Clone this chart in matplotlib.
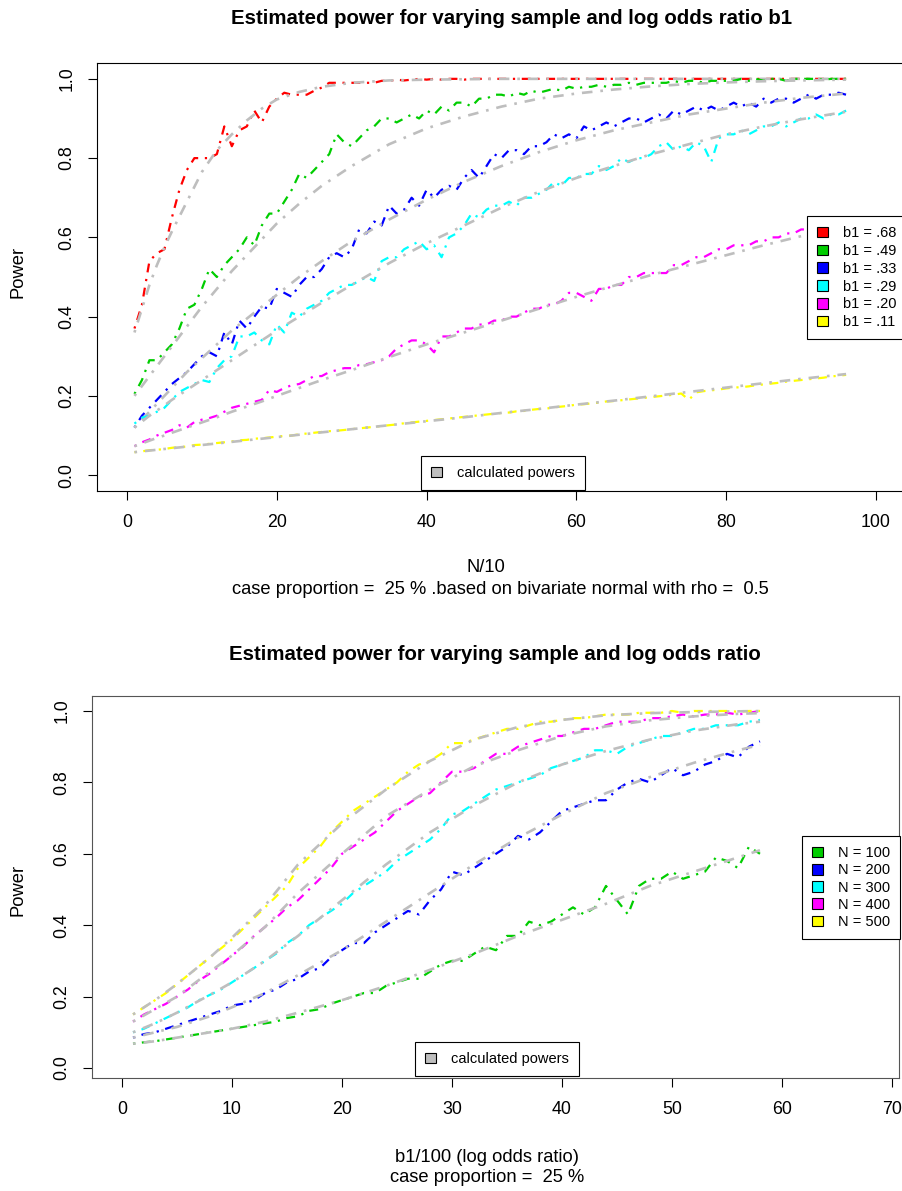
import matplotlib
matplotlib.use("Agg")
import matplotlib.pyplot as plt
from matplotlib.patches import Patch, Rectangle

plt.rcParams['font.family'] = ['Liberation Sans', 'DejaVu Sans']

W, H = 903, 1191
DPI = 100

# ---------------- top panel data: power vs N/10 for several b1 ----------------
n10 = list(range(1, 97))
b1_labels = ["b1 = .68", "b1 = .49", "b1 = .33", "b1 = .29", "b1 = .20", "b1 = .11"]
colors = ["#FF0000", "#00CD00", "#0000FF", "#00FFFF", "#FF00FF", "#FFFF00"]

sim_068 = [0.37, 0.43, 0.54, 0.56, 0.57, 0.65, 0.72, 0.77, 0.80, 0.80,
           0.80, 0.81, 0.88, 0.83, 0.87, 0.88, 0.92, 0.89, 0.93, 0.95,
           0.965, 0.96, 0.96, 0.96, 0.97, 0.978, 0.99, 0.99, 0.99, 0.99,
           0.99, 0.99, 0.99, 0.995, 0.995, 0.998, 0.996, 0.998, 1.0, 0.998,
           1.0, 0.998, 1.0, 1.0, 0.998, 1.0, 1.0, 1.0, 1.0, 1.0,
           1.0, 1.0, 1.0, 1.0, 1.0, 1.0, 1.0, 1.0, 1.0, 1.0,
           1.0, 1.0, 1.0, 1.0, 1.0, 1.0, 1.0, 1.0, 1.0, 1.0,
           1.0, 1.0, 1.0, 1.0, 1.0, 1.0, 1.0, 1.0, 1.0, 1.0,
           1.0, 1.0, 1.0, 1.0, 1.0, 1.0, 1.0, 1.0, 1.0, 1.0,
           1.0, 1.0, 1.0, 1.0, 1.0, 1.0]
sim_049 = [0.205, 0.24, 0.29, 0.29, 0.31, 0.33, 0.37, 0.42, 0.43, 0.47,
           0.52, 0.50, 0.53, 0.55, 0.57, 0.60, 0.58, 0.63, 0.66, 0.66,
           0.69, 0.72, 0.76, 0.75, 0.77, 0.79, 0.81, 0.86, 0.84, 0.83,
           0.85, 0.87, 0.88, 0.90, 0.90, 0.89, 0.90, 0.91, 0.90, 0.92,
           0.91, 0.93, 0.92, 0.94, 0.94, 0.93, 0.95, 0.95, 0.96, 0.96,
           0.955, 0.965, 0.96, 0.97, 0.965, 0.97, 0.975, 0.97, 0.98, 0.975,
           0.98, 0.98, 0.985, 0.98, 0.985, 0.985, 0.99, 0.985, 0.99, 0.99,
           0.99, 0.99, 0.995, 0.99, 0.995, 0.995, 0.99, 0.995, 0.995, 0.995,
           0.995, 1.0, 0.995, 1.0, 0.995, 1.0, 1.0, 0.995, 1.0, 1.0,
           1.0, 1.0, 0.998, 1.0, 1.0, 1.0]
sim_033 = [0.12, 0.15, 0.17, 0.19, 0.21, 0.23, 0.245, 0.26, 0.28, 0.30,
           0.31, 0.30, 0.36, 0.33, 0.39, 0.37, 0.40, 0.425, 0.42, 0.47,
           0.46, 0.45, 0.48, 0.50, 0.50, 0.52, 0.55, 0.56, 0.55, 0.57,
           0.62, 0.61, 0.64, 0.63, 0.68, 0.66, 0.67, 0.70, 0.68, 0.72,
           0.70, 0.72, 0.73, 0.72, 0.75, 0.77, 0.75, 0.78, 0.81, 0.80,
           0.82, 0.82, 0.81, 0.83, 0.83, 0.84, 0.86, 0.85, 0.86, 0.85,
           0.88, 0.87, 0.88, 0.89, 0.88, 0.89, 0.90, 0.90, 0.89, 0.90,
           0.91, 0.90, 0.92, 0.91, 0.92, 0.93, 0.92, 0.93, 0.92, 0.93,
           0.94, 0.93, 0.94, 0.93, 0.95, 0.94, 0.95, 0.95, 0.94, 0.95,
           0.96, 0.95, 0.96, 0.96, 0.965, 0.96]
sim_029 = [0.13, 0.145, 0.15, 0.16, 0.17, 0.19, 0.21, 0.22, 0.23, 0.24,
           0.235, 0.27, 0.29, 0.30, 0.35, 0.35, 0.36, 0.34, 0.33, 0.38,
           0.36, 0.41, 0.40, 0.42, 0.43, 0.44, 0.46, 0.47, 0.48, 0.48,
           0.49, 0.50, 0.49, 0.54, 0.55, 0.55, 0.57, 0.58, 0.59, 0.57,
           0.58, 0.55, 0.60, 0.61, 0.63, 0.66, 0.65, 0.67, 0.68, 0.68,
           0.69, 0.68, 0.70, 0.70, 0.71, 0.72, 0.74, 0.73, 0.75, 0.75,
           0.76, 0.76, 0.78, 0.77, 0.78, 0.80, 0.79, 0.80, 0.80, 0.81,
           0.83, 0.84, 0.82, 0.83, 0.82, 0.84, 0.83, 0.79, 0.85, 0.86,
           0.86, 0.87, 0.86, 0.87, 0.88, 0.88, 0.89, 0.88, 0.89, 0.90,
           0.90, 0.91, 0.90, 0.91, 0.91, 0.92]
sim_020 = [0.073, 0.083, 0.09, 0.10, 0.107, 0.114, 0.126, 0.12, 0.134, 0.14,
           0.144, 0.15, 0.16, 0.17, 0.175, 0.18, 0.185, 0.19, 0.215, 0.21,
           0.22, 0.227, 0.23, 0.24, 0.25, 0.25, 0.26, 0.265, 0.27, 0.27,
           0.278, 0.28, 0.285, 0.29, 0.30, 0.32, 0.33, 0.34, 0.34, 0.33,
           0.31, 0.35, 0.35, 0.36, 0.37, 0.37, 0.38, 0.38, 0.39, 0.39,
           0.40, 0.40, 0.41, 0.42, 0.42, 0.43, 0.43, 0.44, 0.46, 0.46,
           0.45, 0.44, 0.47, 0.47, 0.48, 0.48, 0.50, 0.50, 0.51, 0.51,
           0.51, 0.51, 0.53, 0.53, 0.54, 0.55, 0.55, 0.56, 0.57, 0.57,
           0.58, 0.58, 0.58, 0.59, 0.59, 0.60, 0.60, 0.61, 0.61, 0.62,
           0.62, 0.63, 0.63, 0.64, 0.64, 0.64]
sim_011 = [0.058, 0.06, 0.063, 0.064, 0.066, 0.069, 0.071, 0.072, 0.076, 0.077,
           0.079, 0.081, 0.083, 0.085, 0.088, 0.089, 0.092, 0.093, 0.095, 0.097,
           0.099, 0.10, 0.103, 0.105, 0.107, 0.109, 0.111, 0.112, 0.114, 0.116,
           0.118, 0.12, 0.122, 0.124, 0.126, 0.128, 0.131, 0.133, 0.135, 0.137,
           0.139, 0.141, 0.143, 0.145, 0.147, 0.149, 0.151, 0.153, 0.155, 0.157,
           0.158, 0.161, 0.162, 0.165, 0.167, 0.168, 0.171, 0.173, 0.175, 0.178,
           0.179, 0.181, 0.183, 0.186, 0.187, 0.189, 0.191, 0.193, 0.195, 0.197,
           0.199, 0.201, 0.203, 0.206, 0.19, 0.209, 0.212, 0.214, 0.216, 0.219,
           0.221, 0.222, 0.224, 0.227, 0.229, 0.231, 0.233, 0.236, 0.238, 0.240,
           0.242, 0.244, 0.246, 0.249, 0.251, 0.253]

calc_n10 = [1, 2, 3, 4, 5, 6, 8, 10, 12, 14, 16, 18, 20, 23, 26, 30, 35, 40, 45,
            50, 55, 60, 65, 70, 75, 80, 85, 90, 96]
calc_068 = [0.36, 0.42, 0.48, 0.53, 0.575, 0.615, 0.69, 0.765, 0.82, 0.86, 0.895,
            0.925, 0.948, 0.967, 0.98, 0.99, 0.996, 0.998, 0.999, 1.0, 1.0, 1.0,
            1.0, 1.0, 1.0, 1.0, 1.0, 1.0, 1.0]
calc_049 = [0.20, 0.225, 0.25, 0.275, 0.30, 0.325, 0.375, 0.425, 0.47, 0.515,
            0.555, 0.595, 0.635, 0.685, 0.73, 0.78, 0.835, 0.875, 0.905, 0.93,
            0.95, 0.963, 0.973, 0.981, 0.987, 0.991, 0.994, 0.996, 0.998]
calc_033 = [0.12, 0.14, 0.16, 0.18, 0.20, 0.22, 0.26, 0.295, 0.33, 0.365, 0.395,
            0.425, 0.455, 0.50, 0.54, 0.59, 0.645, 0.695, 0.74, 0.78, 0.815,
            0.845, 0.87, 0.89, 0.91, 0.925, 0.94, 0.952, 0.963]
calc_029 = [0.12, 0.135, 0.15, 0.163, 0.176, 0.19, 0.215, 0.24, 0.265, 0.29,
            0.315, 0.34, 0.365, 0.40, 0.435, 0.48, 0.535, 0.585, 0.63, 0.675,
            0.715, 0.75, 0.78, 0.81, 0.835, 0.86, 0.88, 0.898, 0.917]
calc_020 = [0.073, 0.08, 0.087, 0.094, 0.10, 0.107, 0.12, 0.133, 0.146, 0.16,
            0.173, 0.186, 0.20, 0.22, 0.24, 0.265, 0.298, 0.33, 0.36, 0.39,
            0.42, 0.45, 0.478, 0.505, 0.53, 0.555, 0.58, 0.603, 0.63]
calc_011 = [0.058, 0.06, 0.062, 0.064, 0.066, 0.068, 0.072, 0.076, 0.08, 0.084,
            0.088, 0.092, 0.096, 0.102, 0.108, 0.116, 0.126, 0.136, 0.146,
            0.157, 0.167, 0.178, 0.188, 0.199, 0.21, 0.221, 0.232, 0.243, 0.255]

# ---------------- bottom panel data: power vs b1/100 for several N ----------------
b100 = list(range(1, 59))
n_labels = ["N = 100", "N = 200", "N = 300", "N = 400", "N = 500"]
n_colors = ["#00CD00", "#0000FF", "#00FFFF", "#FF00FF", "#FFFF00"]

sim_n100 = [0.068, 0.072, 0.075, 0.08, 0.085, 0.09, 0.095, 0.10, 0.105, 0.11,
            0.115, 0.12, 0.125, 0.13, 0.14, 0.145, 0.16, 0.165, 0.18, 0.19,
            0.20, 0.21, 0.21, 0.23, 0.24, 0.25, 0.25, 0.27, 0.29, 0.30,
            0.30, 0.32, 0.34, 0.33, 0.37, 0.37, 0.41, 0.40, 0.41, 0.43,
            0.45, 0.43, 0.45, 0.51, 0.47, 0.43, 0.51, 0.53, 0.53, 0.55,
            0.53, 0.54, 0.55, 0.59, 0.58, 0.56, 0.62, 0.60]
sim_n200 = [0.085, 0.095, 0.10, 0.11, 0.12, 0.13, 0.14, 0.15, 0.16, 0.175,
            0.18, 0.19, 0.21, 0.22, 0.24, 0.25, 0.27, 0.28, 0.31, 0.33,
            0.35, 0.35, 0.38, 0.40, 0.42, 0.44, 0.43, 0.47, 0.50, 0.55,
            0.54, 0.56, 0.58, 0.60, 0.62, 0.65, 0.64, 0.66, 0.69, 0.72,
            0.73, 0.74, 0.75, 0.75, 0.78, 0.80, 0.81, 0.80, 0.82, 0.84,
            0.82, 0.83, 0.85, 0.86, 0.88, 0.87, 0.90, 0.915]
sim_n300 = [0.10, 0.11, 0.125, 0.14, 0.155, 0.17, 0.19, 0.205, 0.22, 0.24,
            0.26, 0.28, 0.30, 0.32, 0.35, 0.37, 0.40, 0.42, 0.44, 0.46,
            0.49, 0.51, 0.53, 0.55, 0.58, 0.60, 0.62, 0.64, 0.67, 0.71,
            0.72, 0.74, 0.76, 0.78, 0.79, 0.80, 0.81, 0.82, 0.84, 0.85,
            0.86, 0.87, 0.89, 0.89, 0.88, 0.90, 0.91, 0.92, 0.93, 0.93,
            0.94, 0.95, 0.95, 0.96, 0.96, 0.96, 0.97, 0.975]
sim_n400 = [0.13, 0.15, 0.165, 0.18, 0.20, 0.22, 0.245, 0.265, 0.29, 0.315,
            0.34, 0.37, 0.395, 0.42, 0.45, 0.47, 0.50, 0.53, 0.56, 0.60,
            0.62, 0.64, 0.66, 0.69, 0.72, 0.74, 0.76, 0.77, 0.80, 0.83,
            0.83, 0.84, 0.86, 0.88, 0.88, 0.90, 0.91, 0.92, 0.93, 0.93,
            0.94, 0.95, 0.95, 0.96, 0.97, 0.97, 0.97, 0.98, 0.98, 0.985,
            0.99, 0.985, 0.99, 0.99, 0.995, 0.99, 0.995, 1.0]
sim_n500 = [0.15, 0.17, 0.19, 0.21, 0.235, 0.26, 0.285, 0.31, 0.335, 0.36,
            0.39, 0.42, 0.45, 0.48, 0.51, 0.56, 0.59, 0.62, 0.66, 0.69,
            0.72, 0.74, 0.76, 0.78, 0.80, 0.83, 0.85, 0.86, 0.88, 0.91,
            0.91, 0.92, 0.93, 0.94, 0.95, 0.95, 0.96, 0.97, 0.97, 0.975,
            0.98, 0.98, 0.985, 0.99, 0.99, 0.99, 0.995, 0.995, 0.995, 1.0,
            0.995, 1.0, 1.0, 1.0, 1.0, 0.998, 1.0, 1.0]

calc_b100 = [1, 3, 5, 8, 10, 13, 16, 20, 24, 28, 32, 36, 40, 44, 48, 52, 56, 58]
calc_n100 = [0.068, 0.075, 0.085, 0.10, 0.11, 0.13, 0.155, 0.19, 0.23, 0.275,
             0.32, 0.37, 0.415, 0.46, 0.51, 0.55, 0.59, 0.61]
calc_n200 = [0.085, 0.10, 0.115, 0.145, 0.17, 0.21, 0.26, 0.33, 0.41, 0.49,
             0.57, 0.645, 0.71, 0.77, 0.815, 0.855, 0.89, 0.905]
calc_n300 = [0.10, 0.125, 0.155, 0.205, 0.24, 0.30, 0.37, 0.47, 0.57, 0.66,
             0.735, 0.80, 0.85, 0.888, 0.92, 0.945, 0.963, 0.97]
calc_n400 = [0.13, 0.165, 0.20, 0.27, 0.315, 0.395, 0.49, 0.60, 0.705, 0.78,
             0.845, 0.89, 0.93, 0.957, 0.974, 0.985, 0.992, 0.994]
calc_n500 = [0.15, 0.19, 0.235, 0.31, 0.365, 0.455, 0.57, 0.685, 0.78, 0.86,
             0.92, 0.955, 0.975, 0.988, 0.994, 0.997, 0.999, 1.0]

CALC_GREY = "#BEBEBE"
DOTDASH = (0, (1, 3, 4, 3))
TICK_FS = 12.8
LAB_FS = 13.2
TITLE_FS = 14.7
LEG_FS = 10.5


def px_rect(left, top, right, bottom):
    return [left / W, 1 - bottom / H, (right - left) / W, (bottom - top) / H]


def fig_text(fig, x, y, s, **kw):
    fig.text(x / W, 1 - y / H, s, ha="center", va="center", **kw)


def style_axes(ax, frame_color):
    for sp in ax.spines.values():
        sp.set_linewidth(0.8)
        sp.set_color(frame_color)
    ax.tick_params(direction="out", length=6.5, width=0.8, labelsize=TICK_FS,
                   pad=9, color="black")
    ax.tick_params(axis="x", pad=10)
    for lab in ax.get_yticklabels():
        lab.set_rotation(90)
        lab.set_va("center")


def add_legend(fig, ax, labels, cols, left, top, spacing, frame=True):
    handles = [Patch(facecolor=c, edgecolor="black", linewidth=0.8) for c in cols]
    leg = ax.legend(handles, labels, loc="upper left",
                    bbox_to_anchor=(left / W, 1 - top / H),
                    bbox_transform=fig.transFigure, borderaxespad=0,
                    fontsize=LEG_FS, handlelength=0.75, handleheight=0.75,
                    handletextpad=1.0, borderpad=0.7, labelspacing=spacing,
                    fancybox=False, framealpha=1, edgecolor="black",
                    frameon=frame)
    if frame:
        leg.get_frame().set_linewidth(0.8)
    return leg


fig = plt.figure(figsize=(W / DPI, H / DPI), dpi=DPI)

# ---------------- top panel ----------------
ax1 = fig.add_axes(px_rect(97, 63, 906, 491))
top_sims = [sim_068, sim_049, sim_033, sim_029, sim_020, sim_011]
top_calcs = [calc_068, calc_049, calc_033, calc_029, calc_020, calc_011]
for sim, calc, c in zip(top_sims, top_calcs, colors):
    ax1.plot(n10, sim, color=c, lw=1.6, linestyle=DOTDASH)
    ax1.plot(calc_n10, calc, color=CALC_GREY, lw=1.9, linestyle=DOTDASH)
ax1.set_xlim(-4, 104)
ax1.set_ylim(-0.04, 1.04)
ax1.set_xticks([0, 20, 40, 60, 80, 100])
ax1.set_yticks([0.0, 0.2, 0.4, 0.6, 0.8, 1.0])
ax1.set_yticklabels(["0.0", "0.2", "0.4", "0.6", "0.8", "1.0"])
style_axes(ax1, "black")

# b1 legend: its box runs on past the right edge of the figure
leg1 = add_legend(fig, ax1, b1_labels, colors, 807, 216, 0.26, frame=False)
ax1.add_artist(leg1)
ax1.add_patch(Rectangle((807 / W, 1 - 339 / H), 110 / W, 123 / H,
                        transform=fig.transFigure, facecolor="white",
                        edgecolor="black", linewidth=0.8, clip_on=False,
                        zorder=4.5))
add_legend(fig, ax1, ["calculated powers"], [CALC_GREY], 421, 456, 0.2)

fig_text(fig, 512, 19, "Estimated power for varying sample and log odds ratio b1",
         fontsize=TITLE_FS, fontweight="bold")
fig_text(fig, 486, 568, "N/10", fontsize=LAB_FS)
fig_text(fig, 500, 590,
         "case proportion =  25 % .based on bivariate normal with rho =  0.5",
         fontsize=LAB_FS)
fig_text(fig, 18, 272, "Power", fontsize=LAB_FS, rotation=90)

# ---------------- bottom panel ----------------
ax2 = fig.add_axes(px_rect(92, 696, 899, 1078))
bot_sims = [sim_n100, sim_n200, sim_n300, sim_n400, sim_n500]
bot_calcs = [calc_n100, calc_n200, calc_n300, calc_n400, calc_n500]
for sim, calc, c in zip(bot_sims, bot_calcs, n_colors):
    ax2.plot(b100, sim, color=c, lw=1.6, linestyle=DOTDASH)
    ax2.plot(calc_b100, calc, color=CALC_GREY, lw=1.9, linestyle=DOTDASH)
ax2.set_xlim(-2.73, 70.64)
ax2.set_ylim(-0.028, 1.042)
ax2.set_xticks([0, 10, 20, 30, 40, 50, 60, 70])
ax2.set_yticks([0.0, 0.2, 0.4, 0.6, 0.8, 1.0])
ax2.set_yticklabels(["0.0", "0.2", "0.4", "0.6", "0.8", "1.0"])
style_axes(ax2, "#555555")

leg2 = add_legend(fig, ax2, n_labels, n_colors, 802, 836, 0.22)
ax2.add_artist(leg2)
add_legend(fig, ax2, ["calculated powers"], [CALC_GREY], 415, 1042, 0.2)

fig_text(fig, 495, 655, "Estimated power for varying sample and log odds ratio",
         fontsize=TITLE_FS, fontweight="bold")
fig_text(fig, 487, 1158, "b1/100 (log odds ratio)", fontsize=LAB_FS)
fig_text(fig, 487, 1177, "case proportion =  25 %", fontsize=LAB_FS)
fig_text(fig, 18, 890, "Power", fontsize=LAB_FS, rotation=90)

fig.savefig("out.png", dpi=DPI)
